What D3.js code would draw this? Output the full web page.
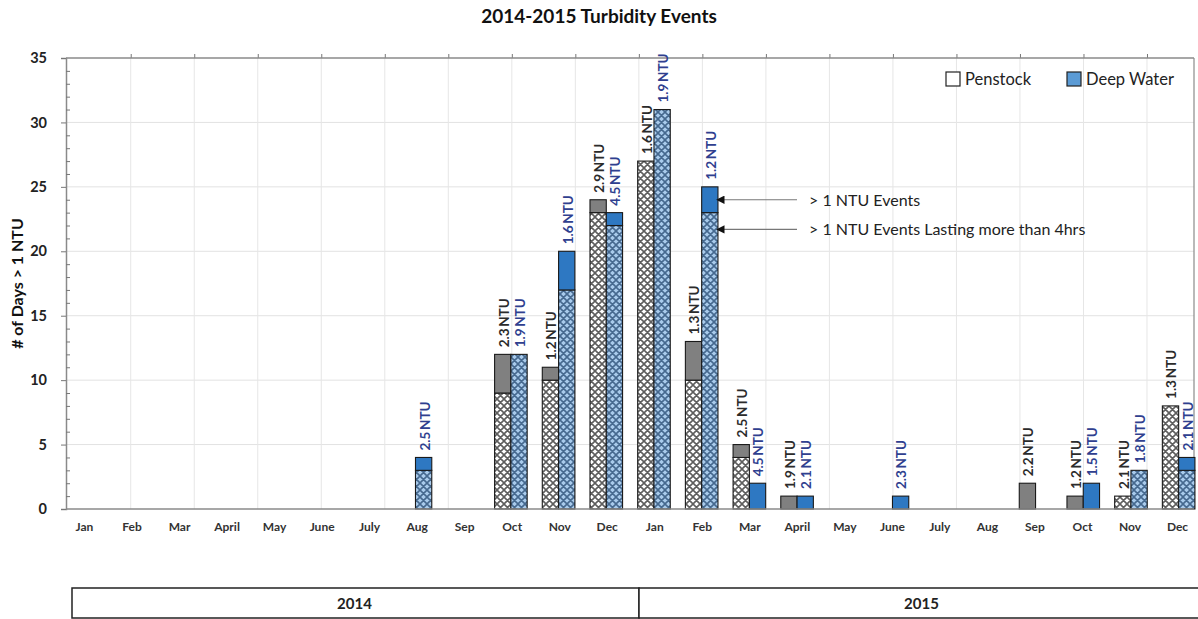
<!DOCTYPE html>
<html>
<head>
<meta charset="utf-8">
<script src="https://cdn.jsdelivr.net/npm/d3@7/dist/d3.min.js"></script>
<style>
  html, body { margin: 0; padding: 0; background: #fff; }
  svg { display: block; font-family: Lato, "Open Sans", sans-serif; }
</style>
</head>
<body>
<svg id="chart" width="1198" height="619"></svg>
<script>
// Monthly turbidity events, Jan 2014 – Dec 2015
const years = ["2014", "2015"];
const monthNames = ["Jan", "Feb", "Mar", "April", "May", "June", "July", "Aug", "Sep", "Oct", "Nov", "Dec"];

// Days with > 1 NTU events (total) and days where the event lasted more than 4 hrs
const penstockTotal = [0, 0, 0, 0, 0, 0, 0, 0, 0, 12, 11, 24, 27, 13, 5, 1, 0, 0, 0, 0, 2, 1, 1, 8];
const penstockLong  = [0, 0, 0, 0, 0, 0, 0, 0, 0, 9, 10, 23, 27, 10, 4, 0, 0, 0, 0, 0, 0, 0, 1, 8];
const deepTotal     = [0, 0, 0, 0, 0, 0, 0, 4, 0, 12, 20, 23, 31, 25, 2, 1, 0, 1, 0, 0, 0, 2, 3, 4];
const deepLong      = [0, 0, 0, 0, 0, 0, 0, 3, 0, 12, 17, 22, 31, 23, 0, 0, 0, 0, 0, 0, 0, 0, 3, 3];

// Peak turbidity for each month (NTU)
const penstockNTU = [null, null, null, null, null, null, null, null, null, "2.3", "1.2", "2.9",
                     "1.6", "1.3", "2.5", "1.9", null, null, null, null, "2.2", "1.2", "2.1", "1.3"];
const deepNTU     = [null, null, null, null, null, null, null, "2.5", null, "1.9", "1.6", "4.5",
                     "1.9", "1.2", "4.5", "2.1", null, "2.3", null, null, null, "1.5", "1.8", "2.1"];

const yTicks = [0, 5, 10, 15, 20, 25, 30, 35];
const seriesNames = ["Penstock", "Deep Water"];
const annotations = [
  { text: "> 1 NTU Events", month: 13, at: 24 },
  { text: "> 1 NTU Events Lasting more than 4hrs", month: 13, at: 21.7 }
];

const monthKeys = [];
years.forEach(yr => monthNames.forEach(m => monthKeys.push(yr + "-" + m)));

const svg = d3.select("#chart");
const plot = { left: 66, right: 1194, top: 58, bottom: 509 };

const x = d3.scaleBand().domain(monthKeys).range([57.75, 1202.5])
  .paddingInner(0.317).paddingOuter(0.1585);
const xs = d3.scaleBand().domain(seriesNames).range([0, x.bandwidth()]);
const xLabel = d3.scalePoint().domain(monthKeys).range([84.5, 1177.5]);
const y = d3.scaleLinear().domain([0, 35]).range([plot.bottom, plot.top]);
const gridX = d3.scaleLinear().domain([0, 17.74]).range([67.2, plot.right]);
const yearX = d3.scaleBand().domain(years).range([72, 1206]);

// cross-hatch patterns
const defs = svg.append("defs");
function hatch(id, bg, line) {
  const s = 7;
  const p = defs.append("pattern").attr("id", id).attr("patternUnits", "userSpaceOnUse")
    .attr("width", s).attr("height", s);
  p.append("rect").attr("width", s).attr("height", s).attr("fill", bg);
  p.append("path")
    .attr("d", `M-1,1 L1,-1 M0,${s} L${s},0 M${s - 1},${s + 1} L${s + 1},${s - 1} ` +
               `M-1,${s - 1} L1,${s + 1} M0,0 L${s},${s} M${s - 1},-1 L${s + 1},1`)
    .attr("stroke", line).attr("stroke-width", 1.6).attr("fill", "none");
}
hatch("hatchP", "#ffffff", "#5e5e5e");
hatch("hatchD", "#a9cbec", "#46698f");

// gridlines
svg.append("g").selectAll("line").data(yTicks.filter(d => d > 0 && d < 35)).join("line")
  .attr("x1", plot.left).attr("x2", plot.right)
  .attr("y1", d => y(d)).attr("y2", d => y(d))
  .attr("stroke", "#e2e2e2").attr("stroke-width", 1);
svg.append("g").selectAll("line").data(d3.range(1, 18)).join("line")
  .attr("x1", d => gridX(d)).attr("x2", d => gridX(d))
  .attr("y1", plot.top).attr("y2", plot.bottom)
  .attr("stroke", "#e6e6e6").attr("stroke-width", 1);

// frame: top axis with small ticks, right border
const topAxis = svg.append("g").attr("transform", `translate(0,${plot.top})`)
  .call(d3.axisTop(gridX).tickValues(d3.range(1, 18)).tickSize(4).tickFormat(""));
topAxis.select(".domain").remove();
topAxis.selectAll("line").attr("stroke", "#777");
svg.append("line").attr("x1", plot.left).attr("x2", plot.right).attr("y1", plot.top).attr("y2", plot.top)
  .attr("stroke", "#8a8a8a").attr("stroke-width", 1.5);
svg.append("line").attr("x1", plot.right).attr("x2", plot.right).attr("y1", plot.top).attr("y2", plot.bottom)
  .attr("stroke", "#8a8a8a").attr("stroke-width", 1.2);

// bars
const bars = svg.append("g");
const series = [
  { name: "Penstock", total: penstockTotal, long: penstockLong, solid: "#808080", pat: "url(#hatchP)" },
  { name: "Deep Water", total: deepTotal, long: deepLong, solid: "#2e78c2", pat: "url(#hatchD)" }
];
series.forEach(s => {
  const rows = monthKeys.map((k, i) => ({ k, total: s.total[i], long: s.long[i] }));
  // hatched portion: events lasting more than 4 hrs
  bars.append("g").selectAll("rect").data(rows.filter(d => d.long > 0)).join("rect")
    .attr("x", d => x(d.k) + xs(s.name)).attr("width", xs.bandwidth())
    .attr("y", d => y(d.long)).attr("height", d => y(0) - y(d.long))
    .attr("fill", s.pat).attr("stroke", "#1a1a1a").attr("stroke-width", 1.1);
  // solid portion: remaining > 1 NTU events
  bars.append("g").selectAll("rect").data(rows.filter(d => d.total > d.long)).join("rect")
    .attr("x", d => x(d.k) + xs(s.name)).attr("width", xs.bandwidth())
    .attr("y", d => y(d.total)).attr("height", d => y(d.long) - y(d.total))
    .attr("fill", s.solid).attr("stroke", "#1a1a1a").attr("stroke-width", 1.1);
});

// NTU value labels
const labelSets = [
  { name: "Penstock", vals: penstockNTU, total: penstockTotal, color: "#2b2b2b" },
  { name: "Deep Water", vals: deepNTU, total: deepTotal, color: "#2f3f8f" }
];
labelSets.forEach(s => {
  const rows = monthKeys.map((k, i) => ({ k, v: s.vals[i], t: s.total[i] })).filter(d => d.v);
  svg.append("g").selectAll("text").data(rows).join("text")
    .attr("transform", d => `translate(${x(d.k) + xs(s.name) + xs.bandwidth() / 2 + 1},${y(d.t) - 7}) rotate(-90)`)
    .attr("dy", "0.36em")
    .attr("font-size", 13.5).attr("font-weight", 700).attr("fill", s.color)
    .text(d => d.v + "\u2009NTU");
});

// axes
svg.append("g").selectAll("text").data(monthKeys).join("text")
  .attr("x", d => xLabel(d)).attr("y", 531).attr("text-anchor", "middle")
  .attr("font-size", 12).attr("font-weight", 700).attr("fill", "#333")
  .text(k => k.split("-")[1]);
svg.append("line").attr("x1", plot.left).attr("x2", plot.right).attr("y1", plot.bottom).attr("y2", plot.bottom)
  .attr("stroke", "#8a8a8a").attr("stroke-width", 1.5);

const yAxis = svg.append("g").attr("transform", `translate(${plot.left},0)`)
  .call(d3.axisLeft(y).tickValues(yTicks).tickSize(5).tickPadding(14));
yAxis.select(".domain").attr("stroke", "#8a8a8a").attr("stroke-width", 1.5);
yAxis.selectAll("line").attr("stroke", "#777");
yAxis.selectAll("text").attr("font-size", 14.5).attr("font-weight", 700).attr("fill", "#222")
  .attr("font-family", "Lato, sans-serif");
const yMinor = svg.append("g").attr("transform", `translate(${plot.left},0)`)
  .call(d3.axisRight(y).tickValues(d3.range(1, 35).filter(d => d % 5 !== 0)).tickSize(4).tickFormat(""));
yMinor.select(".domain").remove();
yMinor.selectAll("line").attr("stroke", "#777");

svg.append("text").attr("transform", `translate(23,${(plot.top + plot.bottom) / 2}) rotate(-90)`)
  .attr("text-anchor", "middle").attr("font-size", 16).attr("font-weight", 700).attr("fill", "#111")
  .text("# of Days > 1 NTU");

// title
svg.append("text").attr("x", 599).attr("y", 23).attr("text-anchor", "middle")
  .attr("font-size", 19).attr("font-weight", 700).attr("fill", "#111")
  .text("2014-2015 Turbidity Events");

// legend
const legend = svg.append("g");
const legendItems = [
  { name: "Penstock", fill: "#ffffff", x: 946 },
  { name: "Deep Water", fill: "#5b9bd5", x: 1067 }
];
legend.selectAll("rect").data(legendItems).join("rect")
  .attr("x", d => d.x).attr("y", 72).attr("width", 14).attr("height", 14)
  .attr("fill", d => d.fill).attr("stroke", "#222").attr("stroke-width", 1.2);
legend.selectAll("text").data(legendItems).join("text")
  .attr("x", d => d.x + 19).attr("y", 85).attr("font-size", 16.5).attr("fill", "#222")
  .text(d => d.name);

// callouts on the Feb 2015 deep water bar
defs.append("marker").attr("id", "arrow").attr("viewBox", "0 0 10 10").attr("refX", 9).attr("refY", 5)
  .attr("markerWidth", 7).attr("markerHeight", 7).attr("orient", "auto-start-reverse")
  .append("path").attr("d", "M0,0 L10,5 L0,10 Z").attr("fill", "#111");
const ann = svg.append("g");
annotations.forEach(a => {
  const key = monthKeys[a.month];
  const xEdge = x(key) + xs("Deep Water") + xs.bandwidth();
  ann.append("line").attr("x1", 797).attr("x2", xEdge - 1)
    .attr("y1", y(a.at)).attr("y2", y(a.at))
    .attr("stroke", "#777").attr("stroke-width", 1.2).attr("marker-end", "url(#arrow)");
  ann.append("text").attr("x", 809).attr("y", y(a.at)).attr("dy", "0.36em")
    .attr("font-size", 16).attr("fill", "#222").text(a.text);
});

// year band below the months
const yearG = svg.append("g");
yearG.selectAll("rect").data(years).join("rect")
  .attr("x", d => yearX(d)).attr("y", 588).attr("width", yearX.bandwidth()).attr("height", 30)
  .attr("fill", "#fff").attr("stroke", "#222").attr("stroke-width", 1.5);
yearG.selectAll("text").data(years).join("text")
  .attr("x", d => yearX(d) + yearX.bandwidth() / 2 - 1).attr("y", 604).attr("dy", "0.36em")
  .attr("text-anchor", "middle").attr("font-size", 15).attr("font-weight", 700).attr("fill", "#222")
  .text(d => d);
</script>
</body>
</html>
